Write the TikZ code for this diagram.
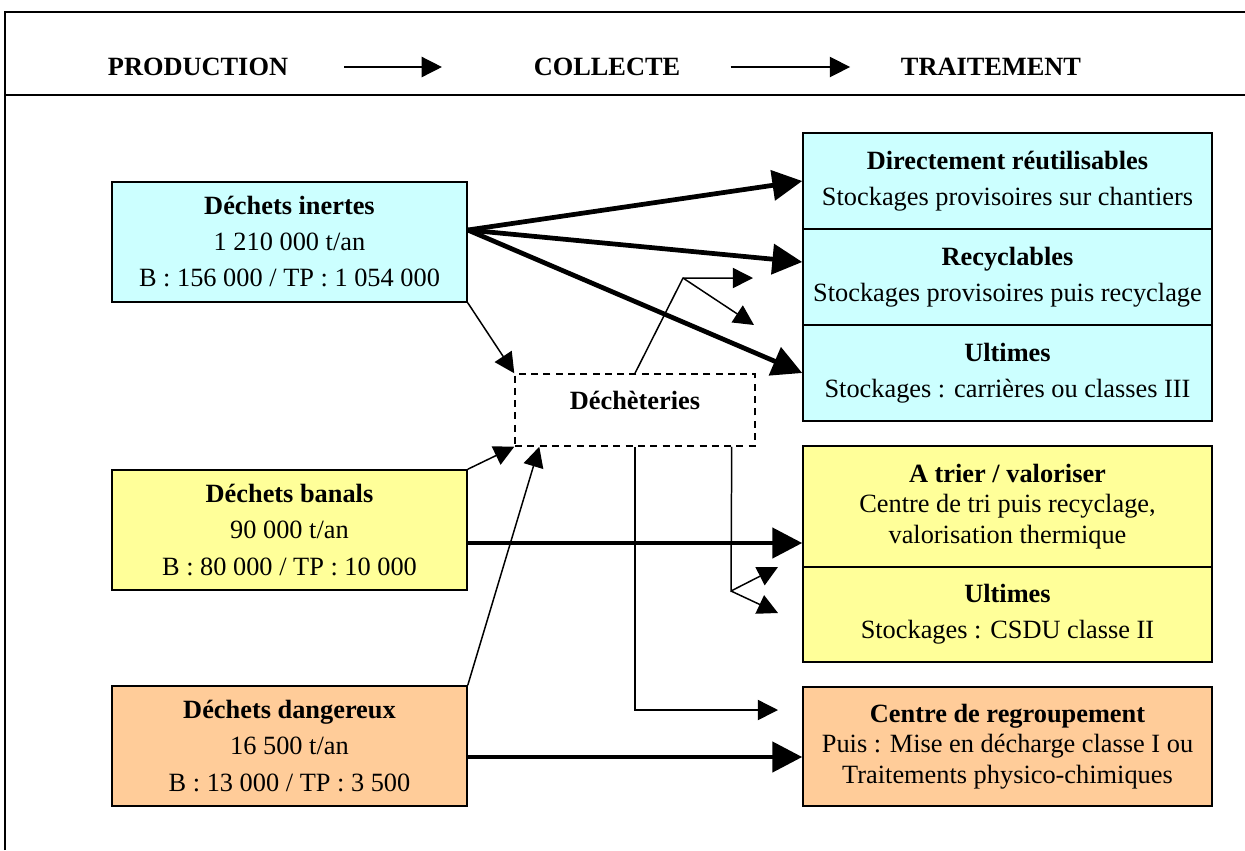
\documentclass[tikz,border=0pt]{standalone}
\usepackage{fontspec}
\setmainfont{Liberation Serif}
\usetikzlibrary{arrows.meta, positioning, shadows}

\definecolor{inertefill}{HTML}{CCFFFF}
\definecolor{banalfill}{HTML}{FFFF99}
\definecolor{dangerfill}{HTML}{FFCC99}

\begin{document}
\begin{tikzpicture}[
    x=0.02cm, y=-0.02cm,
    every node/.style={font=\fontsize{15}{17.5}\selectfont},
    frame/.style={line width=1.1pt},
    hdr/.style={inner sep=0pt, font=\fontsize{15}{17.5}\selectfont\bfseries},
    hdrarr/.style={-{Triangle[length=11.5pt, width=11.5pt]}, line width=0.85pt},
    src/.style={draw, line width=0.9pt, minimum width=7.1cm, minimum height=2.4cm,
                align=center, inner sep=0pt,
                drop shadow={shadow xshift=0.8pt, shadow yshift=-0.8pt, fill=black!45, opacity=1}},
    dest/.style={draw, line width=0.9pt, minimum width=8.18cm, align=center, inner sep=0pt,
                 drop shadow={shadow xshift=0.8pt, shadow yshift=-0.8pt, fill=black!45, opacity=1}},
    dashbox/.style={draw, dash pattern=on 4pt off 3pt, line width=0.85pt, fill=white,
                    minimum width=4.8cm, minimum height=1.44cm, text depth=0.4cm,
                    font=\fontsize{15}{17.5}\selectfont\bfseries},
    big/.style={-{Triangle[length=17pt, width=17pt]}, line width=2.7pt},
    link/.style={-{Triangle[length=11.5pt, width=11.5pt]}, line width=0.85pt},
]
  \useasboundingbox (0,0) rectangle (1245,850);

  % cadre et en-tete
  \draw[frame] (5,850) -- (5,12) -- (1245,12);
  \draw[frame] (5,95) -- (1245,95);
  \node[hdr] (prod)  at (198,67) {PRODUCTION};
  \node[hdr] (coll)  at (607,67) {COLLECTE};
  \node[hdr] (trait) at (991,67) {TRAITEMENT};
  \draw[hdrarr, shorten <=1.12cm, shorten >=1.83cm] (prod.east) -- (coll.west);
  \draw[hdrarr, shorten <=1cm, shorten >=1.01cm] (coll.east) -- (trait.west);

  % production
  \node[src, fill=inertefill] (inertes) at (289.5,242)
    {\textbf{Déchets inertes}\\[3pt] 1 210 000 t/an\\[3pt] B : 156 000 / TP : 1 054 000};
  \node[src, fill=banalfill] (banals) at (289.5,530)
    {\textbf{Déchets banals}\\[3pt] 90 000 t/an\\[3pt] B : 80 000 / TP : 10 000};
  \node[src, fill=dangerfill] (dangereux) at (289.5,746)
    {\textbf{Déchets dangereux}\\[3pt] 16 500 t/an\\[3pt] B : 13 000 / TP : 3 500};

  % traitement
  \node[dest, fill=inertefill, minimum height=1.92cm] (reutil) at (1007.5,181)
    {\textbf{Directement réutilisables}\\[3pt] Stockages provisoires sur chantiers};
  \node[dest, fill=inertefill, minimum height=1.92cm] (recyc) at (1007.5,277)
    {\textbf{Recyclables}\\[3pt] Stockages provisoires puis recyclage};
  \node[dest, fill=inertefill, minimum height=1.92cm] (ultinert) at (1007.5,373)
    {\textbf{Ultimes}\\[3pt] Stockages : carrières ou classes III};
  \node[dest, fill=banalfill, minimum height=2.42cm] (trier) at (1007.5,506.5)
    {\textbf{A trier / valoriser}\\ Centre de tri puis recyclage,\\ valorisation thermique};
  \node[dest, fill=banalfill, minimum height=1.9cm] (ultbanal) at (1007.5,614.5)
    {\textbf{Ultimes}\\[3pt] Stockages : CSDU classe II};
  \node[dest, fill=dangerfill, minimum height=2.38cm] (regroup) at (1007.5,746.5)
    {\textbf{Centre de regroupement}\\ Puis : Mise en décharge classe I ou\\ Traitements physico-chimiques};

  % collecte
  \node[dashbox, text width=4.4cm, align=center] (dechet) at (635,410) {Déchèteries\hspace*{0.4cm}};

  \coordinate (dsplit) at (683,278);
  \coordinate (dtipa)  at (753,278);
  \coordinate (dtipb)  at (754,325);
  \coordinate (bsplit) at (731,591);
  \coordinate (btipa)  at (778,567);
  \coordinate (btipb)  at (778,613);
  \coordinate (rtip)   at (778,710);

  \draw[big] ([yshift=0.24cm]inertes.east) -- (reutil.west);
  \draw[big] ([yshift=0.24cm]inertes.east) -- ([yshift=0.3cm]recyc.west);
  \draw[big] ([yshift=0.24cm]inertes.east) -- (ultinert.west);
  \draw[big] ([yshift=-0.26cm]banals.east) -- ([yshift=-0.26cm]banals.east -| trier.west);
  \draw[big] ([yshift=-0.22cm]dangereux.east) -- ([yshift=-0.22cm]dangereux.east -| regroup.west);

  \draw[link] (inertes.south east) -- (dechet.north west);
  \draw[link] (banals.north east) -- (dechet.south west);
  \draw[link] (dangereux.north east) -- ([xshift=0.5cm]dechet.south west);

  \draw[link] (dechet.north) -- (dsplit) -- (dtipa);
  \draw[link] (dsplit) -- (dtipb);
  \draw[link] ([xshift=-0.48cm]dechet.south east) -- (bsplit) -- (btipa);
  \draw[link] (bsplit) -- (btipb);
  \draw[link] (dechet.south) |- (rtip);
\end{tikzpicture}
\end{document}
